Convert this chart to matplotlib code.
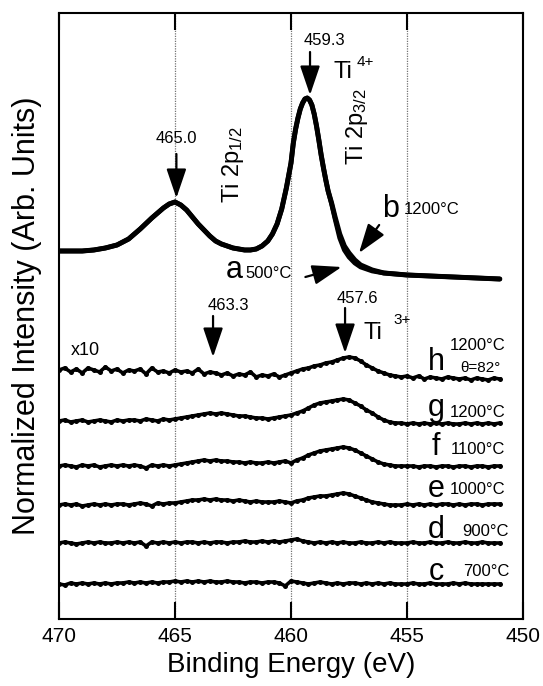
import numpy as np
import matplotlib
matplotlib.use("Agg")
import matplotlib.pyplot as plt

plt.rcParams['font.family'] = ['Liberation Sans', 'DejaVu Sans']
plt.rcParams['mathtext.fontset'] = 'custom'
plt.rcParams['mathtext.rm'] = 'Liberation Sans'
plt.rcParams['mathtext.it'] = 'Liberation Sans:italic'

# ---------------- data ----------------
# Top spectrum (a: 500 C, b: 1200 C), binding energy (eV) and intensity (arb.)
top_energy = [470, 469.5, 469, 468.5, 468, 467.5, 467, 466.5, 466, 465.75, 465.5,
              465.25, 465, 464.75, 464.5, 464.25, 464, 463.75, 463.5, 463.25,
              463, 462.5, 462, 461.75, 461.5, 461.25, 461, 460.8, 460.6, 460.4,
              460.2, 460.0, 459.9, 459.8, 459.7, 459.6, 459.5, 459.4, 459.3,
              459.2, 459.1, 459.0, 458.9, 458.8, 458.7, 458.6, 458.5, 458.4,
              458.25, 458.1, 457.9, 457.7, 457.5, 457.25, 457, 456.5, 456,
              455.5, 455, 454, 453, 452, 451]
spec_a = [368, 368, 368, 369, 371, 374, 380, 390, 401, 406, 411,
          415, 417, 414, 409, 402, 395, 389, 383, 378,
          375, 371, 369, 369, 370, 373, 378, 385, 395, 410,
          431, 456, 476, 490, 501, 510, 516, 520, 521,
          519, 514, 505, 493, 479, 464, 451, 439, 428,
          415, 400, 381, 369, 362, 356, 352, 348, 346,
          345, 344, 343, 342, 341, 340]
spec_b = [368, 368, 368, 369, 371, 374, 380, 390, 401, 406, 411,
          415, 417, 414, 409, 402, 395, 389, 383, 378,
          375, 371, 369, 369, 370, 373, 378, 385, 395, 410,
          431, 456, 476, 490, 501, 510, 516, 520, 521,
          519, 514, 505, 493, 479, 464, 451, 439, 428,
          416, 402, 385, 373, 366, 359, 354, 349, 346,
          345, 344, 343, 342, 341, 340]

# x10 spectra, 470 -> 451 eV in 0.25 eV steps (77 points), relative intensity
spec_h = [0, 2, -2, 1, -3, 2, 0, -2, 3, -1, 1, -3, 0,
          -1, 1, -4, 2, -2, -1, -3, 0,
          -2, -1, -3, 1, -4, -2, -3, -5,
          -3, -6, -4, -5, -2, -7, -5, -6,
          -4, -7, -5, -3, -1, 1, 2, 4,
          5, 7, 8, 10, 12, 13, 12, 9,
          5, 2, -1, -3, -5, -6, -7, -6,
          -8, -6, -9, -7, -8, -9, -7, -8,
          -9, -8, -10, -8, -9, -10, -8, -9]
spec_g = [0, 1, -1, 0, 1, -1, 0, 1, 0, -1, 1, 0, 1,
          1, 0, 2, 1, 0, 2, 1, 2,
          3, 4, 5, 6, 7, 8, 7, 8,
          7, 6, 5, 5, 4, 3, 3, 2,
          3, 4, 5, 6, 8, 10, 13, 16,
          18, 19, 20, 21, 22, 21, 18, 15,
          11, 8, 4, 1, -1, -2, -2, -3,
          -2, -3, -2, -3, -2, -3, -2, -3,
          -3, -2, -3, -2, -3, -2, -3, -2]
spec_f = [0, 1, 0, -1, 1, 0, 1, -1, 0, 1, 0, 1, 0,
          1, 0, -2, 1, 0, 1, 0, 1,
          2, 3, 4, 5, 6, 5, 6, 5,
          5, 4, 4, 3, 4, 3, 3, 4,
          3, 4, 5, 3, 6, 8, 11, 13,
          15, 16, 17, 18, 19, 18, 16, 13,
          10, 7, 4, 2, 1, 0, 0, 0,
          0, -1, 0, 0, -1, 0, 0, -1,
          0, 0, -1, 0, 0, -1, 0, 0]
spec_e = [0, 1, 0, 1, -1, 0, 1, 0, 1, 0, 1, 1, 0,
          1, 2, 1, -1, 2, 1, 2, 2,
          3, 4, 5, 5, 6, 5, 6, 5,
          5, 4, 5, 4, 3, 4, 3, 3,
          3, 4, 3, 2, 4, 5, 7, 8,
          9, 9, 10, 11, 12, 11, 9, 7,
          5, 3, 2, 1, 0, 0, 0, 1,
          0, 1, 0, 1, 0, 1, 1, 0,
          1, 0, 1, 1, 0, 1, 1, 1]
spec_d = [0, 1, 0, -1, 0, 1, 0, 1, 0, 0, 1, 0, 1,
          0, 1, -3, 1, 0, 1, 0, 1,
          0, 1, 1, 0, 1, 0, 1, 1,
          0, 1, 1, 2, 1, 1, 2, 1,
          2, 1, 2, 3, 4, 2, 1, 0,
          1, 0, 1, 0, 1, 0, 0, 1,
          0, 0, 1, 0, 1, 0, 0, 0,
          1, 0, 0, 1, 0, 0, 1, 0,
          0, 1, 0, 0, 1, 0, 0, 0]
spec_c = [0, -1, 1, 0, 1, 0, 1, 0, 1, 0, 1, 1, 2,
          1, 2, 1, 2, 1, 2, 2, 3,
          2, 3, 2, 3, 2, 3, 2, 2,
          3, 2, 2, 1, 2, 2, 1, 2,
          2, 1, -2, 3, 2, 1, 0, 1,
          2, 1, 0, 1, 0, 1, 1, 0,
          1, 0, 1, 0, 1, 0, 0, 0,
          1, 0, 0, 1, 0, 0, 0, 1,
          0, 1, 0, 0, 0, 0, 0, 0]

low_labels = ['h', 'g', 'f', 'e', 'd', 'c']
low_temps = ['1200°C', '1200°C', '1100°C', '1000°C', '900°C', '700°C']
low_offsets = [249, 198, 153, 114, 76, 35]
low_spectra = [spec_h, spec_g, spec_f, spec_e, spec_d, spec_c]

xticks = [470, 465, 460, 455, 450]
grid_lines = [465, 460, 455]

# ---------------- figure ----------------
fig = plt.figure(figsize=(5.43, 6.86), dpi=100)
ax = fig.add_axes([59/543, 67/686, (523-59)/543, (619-13)/686])
ax.set_xlim(470, 450)
ax.set_ylim(0, 606)

for g in grid_lines:
    ax.axvline(g, color='0.45', lw=0.9, ls=(0, (1, 1)), zorder=0)

# top spectra
ax.plot(top_energy, spec_b, color='k', lw=3.6, solid_capstyle='round', solid_joinstyle='round')
ax.plot(top_energy, spec_a, color='k', lw=3.4, solid_capstyle='round', solid_joinstyle='round')

# x10 spectra
E = np.linspace(470, 451, 77)
for off, sp in zip(low_offsets, low_spectra):
    y = off + np.array(sp, dtype=float)
    ax.plot(E, y, color='k', lw=2.6, marker='o', ms=3.6, mew=0)

# axes styling
ax.set_xticks(xticks)
ax.set_yticks([])
ax.tick_params(axis='x', direction='in', length=12, width=1.5, top=True,
               labelsize=15, pad=6)
for s in ax.spines.values():
    s.set_linewidth(1.5)
ax.set_xlabel('Binding Energy (eV)', fontsize=20, labelpad=4)
ax.set_ylabel('Normalized Intensity (Arb. Units)', fontsize=22, labelpad=12)

def arrow(x0, y0, x1, y1):
    ax.annotate('', xy=(x1, y1), xytext=(x0, y0),
                arrowprops=dict(arrowstyle='-|>,head_length=1.0,head_width=0.34',
                                mutation_scale=18, lw=1.6, color='k',
                                shrinkA=0, shrinkB=0))

# peak annotations
ax.text(464.94, 481, '465.0', fontsize=12, ha='center', va='center')
arrow(464.94, 465, 464.94, 421)
ax.text(458.58, 579, '459.3', fontsize=12, ha='center', va='center')
arrow(459.18, 567, 459.18, 524)
ax.text(457.76, 547, 'Ti', fontsize=17, ha='center', va='center')
ax.text(456.8, 557, '4+', fontsize=11, ha='center', va='center')
ax.text(462.5, 454, 'Ti 2p$_{1/2}$', fontsize=17, rotation=90, ha='center', va='center')
ax.text(457.16, 492, 'Ti 2p$_{3/2}$', fontsize=17, rotation=90, ha='center', va='center')

ax.text(455.73, 410, 'b', fontsize=22, ha='center', va='center')
ax.text(455.15, 410, '1200°C', fontsize=12, ha='left', va='center')
arrow(456.2, 394, 457.07, 366)
ax.text(462.43, 349, 'a', fontsize=22, ha='center', va='center')
ax.text(461.95, 346, '500°C', fontsize=12, ha='left', va='center')
arrow(459.38, 342, 457.82, 352)

ax.text(468.88, 269, 'x10', fontsize=13, ha='center', va='center')
ax.text(462.7, 314, '463.3', fontsize=12, ha='center', va='center')
arrow(463.36, 303, 463.36, 262)
ax.text(457.16, 321, '457.6', fontsize=12, ha='center', va='center')
arrow(457.67, 311, 457.67, 266)
ax.text(456.47, 286, 'Ti', fontsize=17, ha='center', va='center')
ax.text(455.2, 299, '3+', fontsize=11, ha='center', va='center')

# sample labels
letter_y = [257, 211, 172, 130, 89, 47]
temp_x = [451.94, 451.94, 451.94, 451.94, 451.6, 451.6]
temp_y = [274, 207, 170, 130, 87, 47]
for lab, t, ly, tx, ty in zip(low_labels, low_temps, letter_y, temp_x, temp_y):
    ax.text(453.75, ly, lab, fontsize=22, ha='center', va='center')
    ax.text(tx, ty, t, fontsize=12, ha='center', va='center')
ax.text(451.85, 251, 'θ=82°', fontsize=11, ha='center', va='center')

fig.savefig('out.png', dpi=100)
